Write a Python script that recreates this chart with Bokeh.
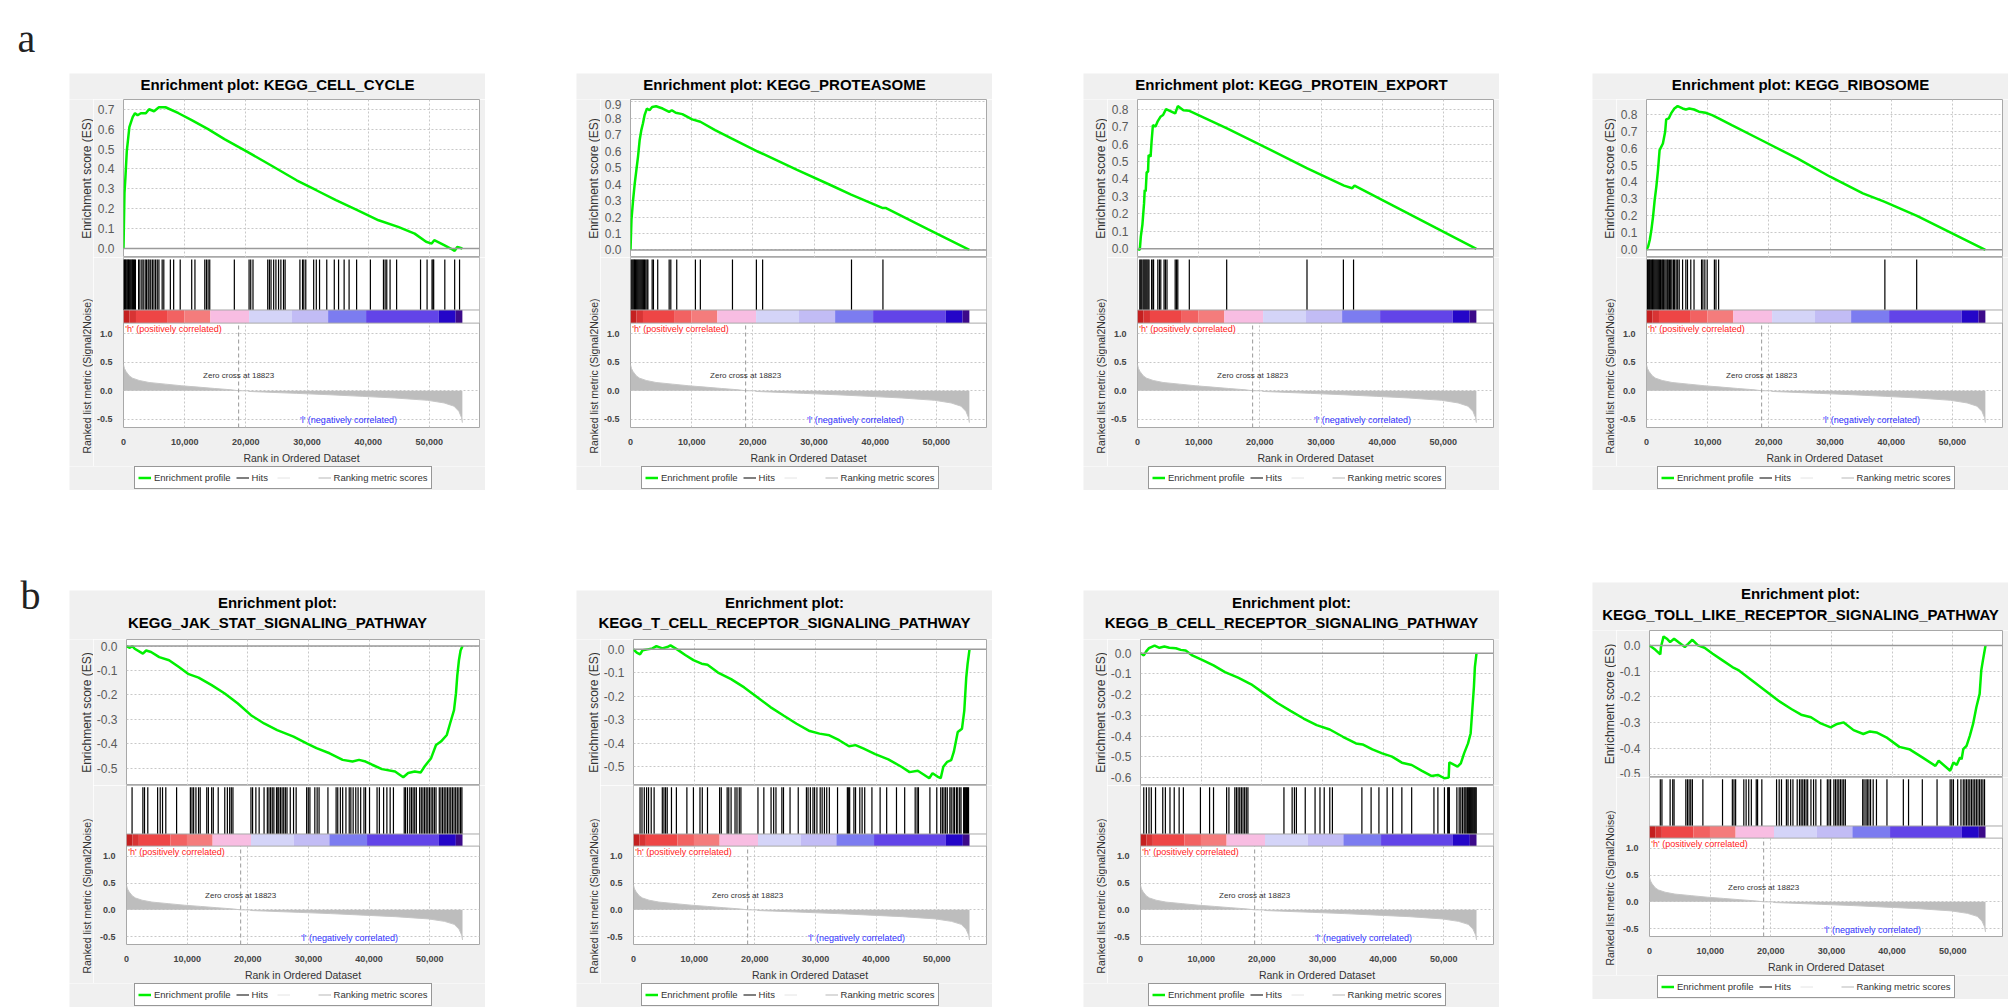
import math
from bokeh.plotting import figure
from bokeh.layouts import row, column
from bokeh.models import (Range1d, Span, Legend, LegendItem, Spacer, BoxAnnotation,
                          SingleIntervalTicker, FixedTicker, NumeralTickFormatter)
from bokeh.core.properties import value
from bokeh.embed import file_html
from bokeh.resources import INLINE

# ------------------------------------------------------------------ data
ZERO_CROSS = 18823

METRIC_RANK = [0, 160, 430, 965, 1500, 2570, 4180, 6860, 9540, 12220, 14900, 17580, 18823,
               20400, 20450, 22940, 28300, 33660, 39020, 44380, 49740, 52420, 54030, 54830,
               55260, 55400]
METRIC_VALUE = [0.46, 0.39, 0.335, 0.26, 0.22, 0.18, 0.145, 0.116, 0.087, 0.064, 0.04, 0.017,
                0.0, -0.001, -0.012, -0.023, -0.046, -0.07, -0.098, -0.127, -0.168, -0.214,
                -0.27, -0.36, -0.47, -0.56]

CB_START = [0, 1000, 2040, 7240, 9970, 14200, 20530, 27550, 33450, 39660, 51510, 54300]
CB_END = [1000, 2040, 7240, 9970, 14200, 20530, 27550, 33450, 39660, 51510, 54300, 55400]
CB_COLORS = ["#c42020", "#d83434", "#ee4646", "#f26262", "#f47c7c", "#f8bde2", "#d4d4f8",
             "#c2bcf5", "#7c7cf0", "#6244e8", "#2406c8", "#3c0a8a"]

TITLE_CELL_CYCLE = ["Enrichment plot: KEGG_CELL_CYCLE"]
ES_X_CELL_CYCLE = [0, 160, 320, 540, 960, 1500, 1880, 2300, 2840, 3650, 4180, 4990, 5790, 6860,
                   9000, 11150, 13830, 16500, 20260, 24010, 28300, 31520, 34730, 38220, 41700,
                   44900, 47600, 49470, 50380, 50800, 52420, 53490, 54140, 54560, 55400]
ES_Y_CELL_CYCLE = [0, 0.28, 0.36, 0.49, 0.61, 0.66, 0.68, 0.67, 0.68, 0.68, 0.70, 0.69, 0.71, 0.71,
                   0.68, 0.645, 0.60, 0.55, 0.486, 0.42, 0.343, 0.293, 0.243, 0.193, 0.142,
                   0.109, 0.075, 0.034, 0.025, 0.042, 0.017, 0.0, -0.012, 0.008, 0.0]
HITS_CELL_CYCLE = [50, 150, 300, 400, 550, 700, 800, 950, 1100, 1250, 1400, 1500, 1650, 1800,
                   1950, 2470, 2680, 3000, 3220, 3540, 3750, 4020, 4180, 4450, 4720, 4980, 5250,
                   5520, 5790, 6320, 6590, 7660, 8200, 9270, 11150, 11680, 13290, 13560, 13830,
                   14100, 18120, 20530, 20800, 21170, 23580, 23850, 24120, 24550, 24920, 25350,
                   25730, 26160, 26420, 28840, 29270, 29480, 29800, 31090, 31520, 32050, 33230,
                   34460, 35160, 36070, 36880, 38110, 40360, 42500, 42770, 43040, 43580, 44650,
                   48560, 49630, 50440, 50600, 50710, 52530, 54140, 54940]

TITLE_PROTEASOME = ["Enrichment plot: KEGG_PROTEASOME"]
ES_X_PROTEASOME = [0, 160, 430, 700, 965, 1230, 1500, 1770, 2040, 2300, 2680, 3110, 3540, 4180,
                   5250, 6320, 6750, 7400, 8470, 10080, 11420, 13830, 16500, 20800, 27230, 32590,
                   36070, 41160, 41700, 48670, 55400]
ES_Y_PROTEASOME = [0, 0.185, 0.306, 0.406, 0.487, 0.567, 0.668, 0.728, 0.77, 0.819, 0.859, 0.849,
                   0.869, 0.873, 0.859, 0.839, 0.849, 0.833, 0.825, 0.793, 0.779, 0.728, 0.678,
                   0.598, 0.487, 0.396, 0.336, 0.255, 0.255, 0.125, 0.0]
HITS_PROTEASOME = [100, 250, 400, 550, 650, 800, 950, 1100, 1250, 1400, 1550, 1700, 1850, 2000,
                   2150, 2300, 2500, 2700, 2840, 3540, 3750, 4450, 6320, 6590, 7560, 10610, 11420,
                   16670, 20580, 21600, 36130, 41270]

TITLE_PROTEIN_EXPORT = ["Enrichment plot: KEGG_PROTEIN_EXPORT"]
ES_X_PROTEIN_EXPORT = [0, 375, 540, 800, 1070, 1180, 1340, 1500, 1720, 1820, 2140, 2300, 2520,
                       2950, 3270, 3750, 4180, 4660, 5360, 6160, 6590, 7500, 8470, 14630, 27760,
                       33770, 35110, 35480, 55400]
ES_Y_PROTEIN_EXPORT = [0, -0.006, 0.07, 0.137, 0.26, 0.337, 0.328, 0.44, 0.44, 0.537, 0.528,
                       0.613, 0.709, 0.70, 0.728, 0.756, 0.766, 0.80, 0.789, 0.775, 0.817, 0.794,
                       0.79, 0.69, 0.461, 0.362, 0.347, 0.362, 0.0]
HITS_PROTEIN_EXPORT = [375, 536, 700, 910, 1070, 1230, 1390, 1550, 1720, 1880, 2300, 2520, 2630,
                       3320, 3590, 3810, 4340, 4560, 4820, 6160, 6380, 6590, 8470, 14580, 27710,
                       33660, 35320]

TITLE_RIBOSOME = ["Enrichment plot: KEGG_RIBOSOME"]
ES_X_RIBOSOME = [0, 270, 540, 800, 1070, 1340, 1610, 1880, 2140, 2680, 3050, 3220, 3650, 4020,
                 4560, 5090, 5900, 6430, 7000, 7770, 8580, 9650, 10720, 11790, 13940, 19300,
                 24660, 30020, 35380, 38860, 40740, 44220, 55400]
ES_Y_RIBOSOME = [0, 0.02, 0.06, 0.118, 0.196, 0.294, 0.373, 0.47, 0.588, 0.627, 0.696, 0.769,
                 0.775, 0.804, 0.833, 0.847, 0.833, 0.827, 0.833, 0.827, 0.814, 0.808, 0.794,
                 0.775, 0.735, 0.637, 0.539, 0.431, 0.333, 0.284, 0.255, 0.2, 0.0]
HITS_RIBOSOME = [150, 300, 450, 550, 700, 850, 1000, 1100, 1250, 1400, 1550, 1700, 1850, 2000,
                 2150, 2300, 2500, 2650, 2800, 3000, 3200, 3400, 3550, 3750, 3950, 4150, 4400,
                 4600, 4850, 5100, 5350, 5900, 6430, 6700, 7240, 7770, 9000, 9220, 9540, 9920,
                 11100, 11360, 11790, 38970, 44170]

TITLE_JAK = ["Enrichment plot:", "KEGG_JAK_STAT_SIGNALING_PATHWAY"]
ES_X_JAK = [0, 540, 970, 1350, 2700, 3240, 4050, 5400, 7020, 8640, 10260, 11880, 14040, 16200,
            18360, 20520, 22680, 24840, 27540, 29700, 31320, 33480, 35640, 37260, 38340, 39420,
            40500, 42120, 44280, 45630, 46440, 47520, 48490, 49140, 50220, 51030, 51840, 52810,
            53350, 54000, 54320, 54540, 54810, 55080, 55400]
ES_Y_JAK = [0, -0.007, 0.0, -0.011, -0.031, -0.018, -0.024, -0.045, -0.058, -0.086, -0.115,
            -0.129, -0.16, -0.194, -0.235, -0.283, -0.317, -0.344, -0.371, -0.398, -0.418,
            -0.439, -0.466, -0.473, -0.466, -0.473, -0.486, -0.504, -0.514, -0.537, -0.52,
            -0.514, -0.518, -0.493, -0.459, -0.405, -0.391, -0.364, -0.317, -0.262, -0.194,
            -0.12, -0.058, -0.018, 0.0]
HITS_JAK = [918, 2700, 2970, 3510, 5130, 5560, 5940, 6480, 8260, 10530, 10800, 11070, 11450,
            11880, 12150, 13230, 13500, 14040, 14310, 15120, 16200, 16630, 17010, 17280, 17550,
            20520, 20790, 21330, 21870, 22680, 23220, 23490, 23760, 24030, 24300, 24730, 24950,
            25110, 25380, 25650, 25920, 26190, 26460, 27000, 27540, 27970, 29700, 29970, 30240,
            31050, 31430, 31750, 33210, 34560, 34830, 35260, 35640, 36180, 36720, 36990, 37370,
            37800, 38180, 38610, 39150, 39420, 40070, 41310, 41690, 42390, 42930, 43470, 44010,
            45790, 46010, 46330, 46710, 46980, 47250, 47520, 47790, 48330, 48600, 48870, 49140,
            49410, 49680, 49950, 50220, 50490, 50760, 51030, 51570, 51840, 52110, 52380, 52650,
            52920, 53190, 53460, 53730, 54000, 54270, 54540, 54810, 55080, 55300]

TITLE_TCELL = ["Enrichment plot:", "KEGG_T_CELL_RECEPTOR_SIGNALING_PATHWAY"]
ES_X_TCELL = [0, 540, 1080, 1510, 2320, 3130, 3780, 4750, 5560, 6100, 7180, 8530, 9880, 11230,
              12200, 13930, 16090, 18250, 20410, 22570, 24730, 26890, 29050, 30670, 32290, 33910,
              35530, 36610, 37960, 39850, 42010, 44170, 45520, 46870, 47950, 48760, 49300, 50110,
              50650, 51080, 51730, 52380, 52810, 53460, 54160, 54540, 54860, 55080, 55400]
ES_Y_TCELL = [0, -0.014, -0.021, -0.004, 0, 0.004, 0.014, 0.004, 0.01, 0.017, 0, -0.024, -0.046,
              -0.061, -0.066, -0.099, -0.127, -0.162, -0.204, -0.246, -0.282, -0.317, -0.348,
              -0.359, -0.366, -0.387, -0.413, -0.408, -0.423, -0.446, -0.469, -0.5, -0.523,
              -0.517, -0.535, -0.549, -0.528, -0.542, -0.549, -0.5, -0.479, -0.472, -0.437,
              -0.352, -0.338, -0.261, -0.12, -0.063, 0.0]
HITS_TCELL = [1080, 1400, 1780, 2160, 2480, 2920, 3400, 4750, 5020, 5290, 5560, 6260, 7070, 8800,
              9880, 10960, 11340, 12200, 14200, 14470, 15440, 15710, 16090, 16740, 17060, 17440,
              17710, 20520, 21490, 22680, 23110, 23490, 24460, 24730, 25810, 27160, 28510, 28780,
              29160, 29590, 29860, 30240, 30780, 31100, 31480, 31860, 32290, 33640, 35260, 35420,
              35640, 36340, 36610, 37310, 37690, 38120, 39310, 40660, 41740, 43360, 44710, 46440,
              46760, 46980, 48870, 50000, 50650, 50920, 51190, 51460, 51730, 52160, 52380, 52700,
              52920, 53240, 53460, 53780, 54000, 54430, 54590, 54760, 54920, 55080, 55240]

TITLE_BCELL = ["Enrichment plot:", "KEGG_B_CELL_RECEPTOR_SIGNALING_PATHWAY"]
ES_X_BCELL = [0, 540, 970, 1400, 2320, 3130, 3940, 4750, 5830, 6640, 7450, 8530, 10150, 12040,
              13930, 16090, 18250, 20410, 22570, 24730, 26890, 29050, 31210, 33370, 35530, 36610,
              38230, 39850, 41470, 43090, 44710, 46330, 47950, 49030, 50110, 50810, 50920, 51730,
              52270, 52810, 53350, 54000, 54430, 54700, 54970, 55130, 55400]
ES_Y_BCELL = [0, -0.011, 0.01, 0.024, 0.037, 0.026, 0.032, 0.026, 0.024, 0.016, 0.013, -0.011,
              -0.032, -0.059, -0.091, -0.118, -0.15, -0.195, -0.24, -0.278, -0.315, -0.347,
              -0.368, -0.403, -0.435, -0.44, -0.464, -0.483, -0.499, -0.528, -0.539, -0.566,
              -0.592, -0.587, -0.603, -0.6, -0.526, -0.539, -0.547, -0.531, -0.483, -0.435,
              -0.387, -0.275, -0.163, -0.067, 0.0]
HITS_BCELL = [540, 970, 1400, 1780, 2480, 3670, 4100, 4860, 5560, 6370, 7070, 9880, 11390, 12040,
              14200, 14580, 15550, 15820, 16090, 16360, 16630, 16900, 17170, 17440, 17710, 23650,
              25000, 25380, 25700, 27160, 28780, 29590, 30290, 31210, 31640, 36500, 38020, 39310,
              40660, 41580, 43090, 44710, 48380, 49030, 50110, 50650, 50810, 50920, 52160, 52540,
              52810, 53080, 53350, 53510, 53680, 53890, 54050, 54220, 54380, 54540, 54700, 54860,
              55030, 55190, 55350]

TITLE_TOLL = ["Enrichment plot:", "KEGG_TOLL_LIKE_RECEPTOR_SIGNALING_PATHWAY"]
ES_X_TOLL = [0, 970, 1780, 1890, 2320, 2860, 3400, 4050, 4750, 5830, 6370, 7070, 7990, 9070,
             10420, 12040, 13660, 14740, 16900, 19060, 21220, 23380, 25000, 26620, 28240, 29860,
             30940, 32020, 33640, 35260, 36340, 37420, 39040, 41200, 42820, 44980, 47140, 47680,
             49300, 49570, 50110, 50650, 51190, 51460, 51730, 52270, 52810, 53350, 53890, 54430,
             54700, 54970, 55400]
ES_Y_TOLL = [0, -0.017, -0.035, -0.006, 0.035, 0.026, 0.013, 0.026, 0.013, -0.006, 0.006, 0.022,
             0.0, -0.009, -0.032, -0.058, -0.084, -0.097, -0.136, -0.175, -0.214, -0.247, -0.269,
             -0.279, -0.303, -0.318, -0.305, -0.299, -0.329, -0.344, -0.334, -0.338, -0.357,
             -0.394, -0.403, -0.435, -0.468, -0.448, -0.481, -0.487, -0.455, -0.464, -0.435,
             -0.442, -0.403, -0.39, -0.351, -0.305, -0.24, -0.188, -0.097, -0.058, 0.0]
HITS_TOLL = [1780, 2050, 3400, 3830, 4050, 5990, 6260, 6530, 6800, 7070, 8800, 12040, 13660,
             13930, 14200, 15550, 15930, 16360, 16790, 17600, 17820, 18520, 20950, 21380, 21760,
             22570, 22840, 23270, 23650, 24350, 24730, 25000, 25270, 25540, 25810, 26080, 26620,
             27050, 27430, 28240, 29320, 29590, 29860, 30400, 30670, 30940, 31210, 31480, 31750,
             32020, 32290, 35150, 35370, 35690, 35910, 36180, 36450, 36880, 37420, 39150, 41850,
             42710, 44980, 47410, 49570, 49840, 50110, 50810, 51350, 51730, 52000, 52270, 52540,
             52810, 53080, 53350, 53620, 53890, 54160, 54430, 54700, 54970, 55240]

LEGEND_LABELS = ["Enrichment profile", "Hits", " ", "Ranking metric scores"]
ES_AXIS_LABEL = "Enrichment score (ES)"
METRIC_AXIS_LABEL = "Ranked list metric (Signal2Noise)"
X_AXIS_LABEL = "Rank in Ordered Dataset"

# ------------------------------------------------------------------ style / layout
FONT = "Liberation Sans"
GREEN = "#00f000"
PANEL_BG = "#f0f0f0"
OUTLINE = "#a8a8a8"
GRID = "#c8c8c8"
MET_LO, MET_HI = -0.645, 1.187
XMAX = 58200
PANEL_W = 416
LAB_W = 24
LEFT = 24          # border left of the main figures (after the label column)
RIGHT = 6
AXIS_B = 38        # x axis band
LEG_H = 24
TITLE_CX = 208
YLAB_X = 17
H_LABEL_POS = (300, 1.08)
L_LABEL_POS = (36770, -0.52)
ZC_LABEL_Y = 0.27
# legend sample glyphs are drawn off-view (outside the 0..1 ranges of the legend band)
PROXY_X = [5, 6]
PROXY_Y = [5, 5]

GEOM_A = dict(top=26, es_h=158, hits_h=66, met_h=105, title_y=[15])
GEOM_B = dict(top=49, es_h=146, hits_h=61, met_h=99, title_y=[37, 16.7])
GEOM_B4 = dict(top=48, es_h=147, hits_h=61, met_h=99, title_y=[37, 16])


def plain(p, bg=PANEL_BG):
    p.outline_line_color = None
    p.grid.visible = False
    p.background_fill_color = bg
    p.border_fill_color = bg


def base_style(p):
    p.background_fill_color = "white"
    p.border_fill_color = PANEL_BG
    p.outline_line_color = OUTLINE
    p.outline_line_width = 1
    for ax in p.axis:
        ax.axis_line_color = None
        ax.major_tick_line_color = None
        ax.minor_tick_line_color = None
        ax.major_label_text_font = FONT
        ax.axis_label_text_font = FONT
        ax.axis_label_text_font_style = "normal"
        ax.major_label_standoff = 5
    p.grid.grid_line_color = GRID
    p.grid.grid_line_dash = "2 2"
    p.grid.grid_line_width = 1


def make_panel(titles, es_x, es_y, hits, es_range, g):
    main_w = PANEL_W - LAB_W
    xr = Range1d(0, XMAX)

    # title band
    tf = figure(width=PANEL_W, height=g["top"], x_range=Range1d(0, PANEL_W),
                y_range=Range1d(0, g["top"]), x_axis_location=None, y_axis_location=None,
                toolbar_location=None, output_backend="svg", min_border=0)
    plain(tf)
    tf.text(x=[TITLE_CX] * len(titles), y=g["title_y"], text=titles, text_align="center",
            text_baseline="middle", text_font=value(FONT), text_font_size="15px",
            text_font_style="bold", text_color="black")

    # enrichment score
    es = figure(width=main_w, height=g["es_h"], x_range=xr, y_range=Range1d(*es_range),
                x_axis_location=None, toolbar_location=None, output_backend="svg",
                min_border_left=LEFT, min_border_right=RIGHT, min_border_top=0,
                min_border_bottom=0)
    base_style(es)
    es.xgrid.ticker = SingleIntervalTicker(interval=10000)
    es.yaxis.ticker = SingleIntervalTicker(interval=0.1)
    es.ygrid.ticker = SingleIntervalTicker(interval=0.1)
    es.yaxis.formatter = NumeralTickFormatter(format="0.0")
    es.yaxis.major_label_text_font_size = "12px"
    es.yaxis.major_label_text_color = "#5a5a5a"
    es.yaxis.major_label_standoff = 3
    es.add_layout(Span(location=0, dimension="width", line_color="#9a9a9a", line_width=1.5))
    es.line(es_x, es_y, line_color=GREEN, line_width=2.5)

    # hits + colour bar + ranked metric
    hh, mh = g["hits_h"], g["met_h"]
    top_val = MET_LO + (MET_HI - MET_LO) * (hh + mh) / mh
    hm = figure(width=main_w, height=hh + mh + AXIS_B, x_range=xr,
                y_range=Range1d(MET_LO, top_val), toolbar_location=None,
                output_backend="svg", min_border_left=LEFT, min_border_right=RIGHT,
                min_border_top=0, min_border_bottom=AXIS_B)
    hm.extra_y_ranges = {"hits": Range1d(-mh / hh, 1.0)}
    base_style(hm)
    hm.yaxis.ticker = FixedTicker(ticks=[-0.5, 0.0, 0.5, 1.0])
    hm.ygrid.ticker = FixedTicker(ticks=[-0.5, 0.0, 0.5, 1.0])
    hm.yaxis.formatter = NumeralTickFormatter(format="0.0")
    hm.yaxis.major_label_text_font_size = "9px"
    hm.yaxis.major_label_text_font_style = "bold"
    hm.yaxis.major_label_text_color = "#444444"
    hm.xaxis.ticker = SingleIntervalTicker(interval=10000)
    hm.xgrid.ticker = SingleIntervalTicker(interval=10000)
    hm.xaxis.formatter = NumeralTickFormatter(format="0,0")
    hm.xaxis.major_label_text_font_size = "9px"
    hm.xaxis.major_label_text_font_style = "bold"
    hm.xaxis.major_label_text_color = "#444444"
    hm.xaxis.axis_label = X_AXIS_LABEL
    hm.xaxis.axis_label_text_font_size = "10.5px"
    hm.xaxis.axis_label_text_color = "#333333"
    hm.xaxis.axis_label_standoff = 4

    hm.add_layout(BoxAnnotation(bottom=0, top=1.0, y_range_name="hits", fill_color="white",
                                fill_alpha=1.0, line_color=None, level="underlay"))
    hm.varea(x=METRIC_RANK, y1=0, y2=METRIC_VALUE, fill_color="#bdbdbd")
    hm.line(METRIC_RANK, METRIC_VALUE, line_color="#c6c6c6", line_width=1)
    hm.segment(x0=[ZERO_CROSS], y0=[MET_LO], x1=[ZERO_CROSS], y1=[MET_HI],
               line_color="#999999", line_dash="4 3", line_width=1)
    hm.text(x=[ZERO_CROSS], y=[ZC_LABEL_Y], text=["Zero cross at %d" % ZERO_CROSS],
            text_align="center", text_baseline="middle", text_font=value(FONT),
            text_font_size="8px", text_color="#333333")
    hm.text(x=[H_LABEL_POS[0]], y=[H_LABEL_POS[1]], text=["'h' (positively correlated)"],
            text_align="left", text_baseline="middle", text_font=value(FONT),
            text_font_size="9px", text_color="#ff2020")
    hm.text(x=[L_LABEL_POS[0]], y=[L_LABEL_POS[1]], text=["'l' (negatively correlated)"],
            text_align="center", text_baseline="middle", text_font=value(FONT),
            text_font_size="9px", text_color="#3030ff")
    hm.quad(left=CB_START, right=CB_END, bottom=0, top=0.2, fill_color=CB_COLORS,
            line_color=None, y_range_name="hits")
    hm.segment(x0=hits, y0=0.2, x1=hits, y1=0.97, line_color="black", line_alpha=1.0,
               line_width=1.2, y_range_name="hits")
    hm.add_layout(Span(location=0.2, dimension="width", y_range_name="hits",
                       line_color=OUTLINE, line_width=1))
    hm.add_layout(Span(location=0.0, dimension="width", y_range_name="hits",
                       line_color=OUTLINE, line_width=1))

    # y axis titles column
    mid_h = g["es_h"] + hh + mh + AXIS_B
    yl = figure(width=LAB_W, height=mid_h, x_range=Range1d(0, LAB_W),
                y_range=Range1d(0, mid_h), x_axis_location=None, y_axis_location=None,
                toolbar_location=None, output_backend="svg", min_border=0)
    plain(yl)
    yl.text(x=[YLAB_X], y=[mid_h - g["es_h"] / 2], text=[ES_AXIS_LABEL], angle=math.pi / 2,
            text_align="center", text_baseline="middle", text_font=value(FONT),
            text_font_size="12px", text_color="#333333")
    yl.text(x=[YLAB_X], y=[AXIS_B + mh / 2], text=[METRIC_AXIS_LABEL], angle=math.pi / 2,
            text_align="center", text_baseline="middle", text_font=value(FONT),
            text_font_size="10.5px", text_color="#333333")

    # legend band
    lf = figure(width=PANEL_W, height=LEG_H, x_range=Range1d(0, 1), y_range=Range1d(0, 1),
                x_axis_location=None, y_axis_location=None, toolbar_location=None,
                output_backend="svg", min_border=0)
    plain(lf)
    r_es = lf.line(x=PROXY_X, y=PROXY_Y, line_color=GREEN, line_width=2.5)
    r_hit = lf.line(x=PROXY_X, y=PROXY_Y, line_color="#555555", line_width=1.5)
    r_blank = lf.line(x=PROXY_X, y=PROXY_Y, line_color="#e4e4e4", line_width=1)
    r_met = lf.line(x=PROXY_X, y=PROXY_Y, line_color="#cfcfcf", line_width=1.5)
    leg = Legend(items=[LegendItem(label=LEGEND_LABELS[0], renderers=[r_es]),
                        LegendItem(label=LEGEND_LABELS[1], renderers=[r_hit]),
                        LegendItem(label=LEGEND_LABELS[2], renderers=[r_blank]),
                        LegendItem(label=LEGEND_LABELS[3], renderers=[r_met])],
                 location=(65, 1), orientation="horizontal",
                 glyph_width=13, glyph_height=15, label_height=15, label_standoff=3,
                 spacing=5, padding=3, margin=0,
                 label_text_font=FONT, label_text_font_size="9.5px",
                 label_text_color="#333333", border_line_color="#303030",
                 border_line_width=1.5, background_fill_color="white",
                 background_fill_alpha=1.0)
    lf.add_layout(leg)

    return column(tf, row(yl, column(es, hm, spacing=0), spacing=0), lf, spacing=0)


def with_top(space, panel):
    return column(Spacer(width=PANEL_W, height=space), panel, spacing=0)


pa1 = make_panel(TITLE_CELL_CYCLE, ES_X_CELL_CYCLE, ES_Y_CELL_CYCLE, HITS_CELL_CYCLE,
                 (-0.045, 0.749), GEOM_A)
pa2 = make_panel(TITLE_PROTEASOME, ES_X_PROTEASOME, ES_Y_PROTEASOME, HITS_PROTEASOME,
                 (-0.046, 0.914), GEOM_A)
pa3 = make_panel(TITLE_PROTEIN_EXPORT, ES_X_PROTEIN_EXPORT, ES_Y_PROTEIN_EXPORT,
                 HITS_PROTEIN_EXPORT, (-0.05, 0.855), GEOM_A)
pa4 = make_panel(TITLE_RIBOSOME, ES_X_RIBOSOME, ES_Y_RIBOSOME, HITS_RIBOSOME,
                 (-0.045, 0.886), GEOM_A)
pb1 = make_panel(TITLE_JAK, ES_X_JAK, ES_Y_JAK, HITS_JAK, (-0.571, 0.027), GEOM_B)
pb2 = make_panel(TITLE_TCELL, ES_X_TCELL, ES_Y_TCELL, HITS_TCELL, (-0.58, 0.042), GEOM_B)
pb3 = make_panel(TITLE_BCELL, ES_X_BCELL, ES_Y_BCELL, HITS_BCELL, (-0.638, 0.066), GEOM_B)
pb4 = make_panel(TITLE_TOLL, ES_X_TOLL, ES_Y_TOLL, HITS_TOLL, (-0.513, 0.058), GEOM_B4)

row_a = row(with_top(73, pa1), Spacer(width=91, height=490), with_top(73, pa2),
            Spacer(width=91, height=490), with_top(73, pa3),
            Spacer(width=93, height=490), with_top(73, pa4), spacing=0)
row_b = row(with_top(100, pb1), Spacer(width=91, height=517), with_top(100, pb2),
            Spacer(width=91, height=517), with_top(100, pb3),
            Spacer(width=93, height=517), with_top(92, pb4), spacing=0)

lab = figure(width=69, height=1007, x_range=Range1d(0, 69), y_range=Range1d(0, 1007),
             x_axis_location=None, y_axis_location=None, toolbar_location=None,
             output_backend="svg", min_border=0)
plain(lab, "white")
lab.text(x=[17, 20], y=[969, 412], text=["a", "b"], text_align="left",
         text_baseline="alphabetic", text_font=value("Liberation Serif"),
         text_font_size="40px", text_color="#222222")

page = row(lab, column(row_a, row_b, spacing=0), spacing=0)

open("out.html", "w").write(file_html(page, INLINE))
